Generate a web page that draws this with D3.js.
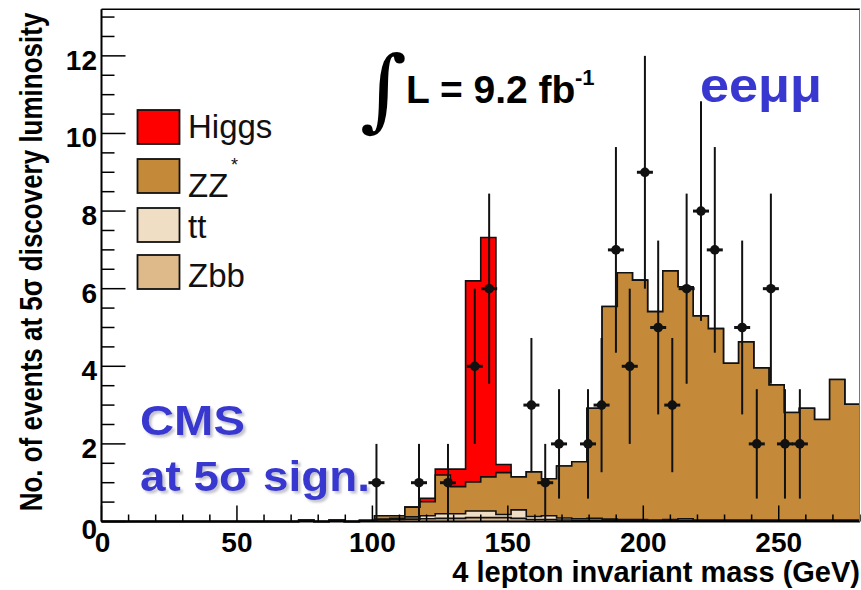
<!DOCTYPE html>
<html><head><meta charset="utf-8">
<script src="https://cdn.jsdelivr.net/npm/d3@7"></script>
<style>body{margin:0;background:#fff} svg{display:block}</style>
</head><body>
<svg id="c" width="861" height="590"></svg>
<script>
// ---- data (50 bins of 5.6 GeV from 0 to 280 GeV) ----
const binWidth = 5.6;
const zbb = [0,0,0,0,0,0,0,0,0,0, 0,0,0,0.03,0,0.03,0,0.02,0.04,0.05,
  0.06,0.07,0.08,0.08,0.10,0.10,0.10,0.08,0.05,0.05, 0.04,0.03,0.03,0.03,0.02,0.02,0.02,0.02,0.03,0.02,
  0.02,0.02,0.02,0.02,0.02,0.02,0.02,0.02,0.02,0.02];
const tt = [0,0,0,0,0,0,0,0,0,0, 0,0,0,0,0,0,0,0,0.02,0.03,
  0.06,0.08,0.12,0.12,0.17,0.17,0.08,0.22,0.08,0.10, 0.05,0.04,0.05,0.03,0.03,0.03,0.02,0.03,0.04,0.02,
  0.02,0.02,0.02,0.02,0.02,0.02,0.02,0.02,0.02,0.02];
const zz = [0,0,0,0,0,0,0,0,0,0, 0,0,0,0,0,0,0,0.01,0.09,0.07,
  0.25,0.36,1.00,0.70,0.75,0.88,1.08,0.85,1.15,0.95, 1.34,1.47,2.84,5.48,6.36,6.17,5.37,6.41,5.98,5.26,
  4.93,4.04,4.59,3.92,3.48,2.77,2.88,2.59,3.62,2.98];
const higgs = [0,0,0,0,0,0,0,0,0,0, 0,0,0,0,0,0,0,0,0,0,
  0,0.09,0.15,0.45,5.18,6.17,0.21,0,0,0, 0,0,0,0,0,0,0,0,0,0,
  0,0,0,0,0,0,0,0,0,0];
// pseudo-data points
const dataMass = [101.5,117.2,127.9,137.8,143.1,158.7,163.8,168.9,179.6,184.6,189.9,195.0,
  200.6,205.5,210.7,216.0,221.3,226.4,236.5,241.9,247.1,252.3,257.8];
const dataCount = [1,1,1,4,6,3,1,2,2,3,7,4,9,5,3,6,8,7,5,2,6,2,2];
const dataErr = [1,1,1,2,2.45,1.73,1,1.41,1.41,1.73,2.65,2,3,2.24,1.73,2.45,2.83,2.65,2.24,1.41,2.45,1.41,1.41];
// axes
const xTicks = [0,50,100,150,200,250];
const yTicks = [0,2,4,6,8,10,12];
const legendNames = ["Higgs","ZZ","tt","Zbb"];
const colors = {higgs:"#ff0000", zz:"#c48a3a", tt:"#f0dec4", zbb:"#deba8a"};

const svg = d3.select("#c");
const FONT = "'Liberation Sans', Arial, Helvetica, sans-serif";
const x = d3.scaleLinear().domain([0,280]).range([101.5,860]);
const y = d3.scaleLinear().domain([0,13.2]).range([521.5,9.3]);

const defs = svg.append("defs");
const f = defs.append("filter").attr("id","shadow").attr("x","-10%").attr("y","-20%").attr("width","130%").attr("height","150%");
f.append("feDropShadow").attr("dx",2.5).attr("dy",2.5).attr("stdDeviation",1.2)
  .attr("flood-color","#9a9aa8").attr("flood-opacity",0.6);

// cumulative stacks
const s1 = zbb.slice();
const s2 = s1.map((v,i)=>v+tt[i]);
const s3 = s2.map((v,i)=>v+zz[i]);
const s4 = s3.map((v,i)=>v+higgs[i]);

function stepPts(arr){
  const pts=[];
  arr.forEach((v,i)=>{pts.push([i*binWidth,v]);pts.push([(i+1)*binWidth,v]);});
  return pts;
}
const area = d3.area().x(d=>x(d[0])).y0(y(0)).y1(d=>y(d[1]));
const line = d3.line().x(d=>x(d[0])).y(d=>y(d[1]));
const hg = svg.append("g");
[[s4,colors.higgs],[s3,colors.zz],[s2,colors.tt],[s1,colors.zbb]].forEach(([arr,c])=>{
  const pts = stepPts(arr);
  hg.append("path").attr("d",area(pts)).attr("fill",c).attr("stroke","none");
  hg.append("path").attr("d",line(pts)).attr("fill","none").attr("stroke","#111").attr("stroke-width",1.6);
});

// data points
const dg = svg.append("g");
dataMass.forEach((m,i)=>{
  const cx=x(m), v=dataCount[i], e=dataErr[i];
  dg.append("line").attr("x1",cx).attr("x2",cx).attr("y1",y(Math.max(0,v-e))).attr("y2",y(v+e))
    .attr("stroke","#111").attr("stroke-width",2);
  dg.append("line").attr("x1",cx-8).attr("x2",cx+8).attr("y1",y(v)).attr("y2",y(v))
    .attr("stroke","#111").attr("stroke-width",3);
  dg.append("circle").attr("cx",cx).attr("cy",y(v)).attr("r",4.8).attr("fill","#111");
});

// axes ticks (drawn on top)
const yMinor = d3.range(0,13.01,0.5);
const xMinor = d3.range(0,281,10);
const ag = svg.append("g").attr("stroke","#000").attr("stroke-width",1.5);
yMinor.forEach(t=>{ const L = (t%2===0)?24:13;
  ag.append("line").attr("x1",x(0)).attr("x2",x(0)+L).attr("y1",y(t)).attr("y2",y(t)); });
xMinor.forEach(t=>{ const L = (t%50===0)?16:7;
  ag.append("line").attr("x1",x(t)).attr("x2",x(t)).attr("y1",y(0)).attr("y2",y(0)-L); });
// frame
svg.append("line").attr("x1",x(0)).attr("x2",x(0)).attr("y1",9.3).attr("y2",y(0)).attr("stroke","#000").attr("stroke-width",2);
svg.append("line").attr("x1",x(0)).attr("x2",860).attr("y1",y(0)).attr("y2",y(0)).attr("stroke","#000").attr("stroke-width",2);
svg.append("line").attr("x1",x(0)).attr("x2",860).attr("y1",9.3).attr("y2",9.3).attr("stroke","#000").attr("stroke-width",1.5);
svg.append("line").attr("x1",859.5).attr("x2",859.5).attr("y1",9.3).attr("y2",y(0)).attr("stroke","#777").attr("stroke-width",1);

// tick labels
yTicks.forEach(t=>{
  svg.append("text").attr("x",97).attr("y",y(t)+(t===0?17:14)).attr("text-anchor","end")
    .attr("font-family",FONT).attr("font-weight","bold").attr("font-size",28).attr("fill","#000").text(t);
});
xTicks.forEach(t=>{
  svg.append("text").attr("x",x(t)+(t===0?1:0)).attr("y",552).attr("text-anchor","middle")
    .attr("font-family",FONT).attr("font-weight","bold").attr("font-size",28).attr("fill","#000").text(t);
});
// axis titles
svg.append("text").attr("x",860).attr("y",581.5).attr("text-anchor","end")
  .attr("font-family",FONT).attr("font-weight","bold").attr("font-size",29).text("4 lepton invariant mass (GeV)");
svg.append("text").attr("transform","translate(42,262) rotate(-90) scale(1,1.2)").attr("text-anchor","middle")
  .attr("font-family",FONT).attr("font-weight","bold").attr("font-size",26)
  .text("No. of events at 5σ discovery luminosity");

// legend
const legColors=[colors.higgs,colors.zz,colors.tt,colors.zbb];
const boxTop=[110,159,208,255];
const labBase=[138.3,196.7,238.3,286.7];
legendNames.forEach((n,i)=>{
  svg.append("rect").attr("x",137.5).attr("y",boxTop[i]).attr("width",42).attr("height",34)
    .attr("fill",legColors[i]).attr("stroke","#111").attr("stroke-width",1.8);
  svg.append("text").attr("x",188).attr("y",labBase[i]).attr("font-family",FONT).attr("font-size",33)
    .attr("fill","#111").text(n);
});
svg.append("text").attr("x",231).attr("y",171).attr("font-family",FONT).attr("font-size",18).attr("fill","#111").text("*");

// annotations
const BLUE="#3838d0";
function blueText(tx,ty,str,size,len){
  svg.append("text").attr("x",tx).attr("y",ty).attr("font-family",FONT).attr("filter","url(#shadow)")
    .attr("font-weight","bold").attr("font-size",size).attr("fill",BLUE)
    .attr("textLength",len).attr("lengthAdjust","spacingAndGlyphs").text(str);
}
blueText(140,435,"CMS",43,105);
blueText(140,490.7,"at 5σ sign.",43,230);
svg.append("text").attr("x",700).attr("y",101.7).attr("font-family",FONT).attr("font-weight","bold")
  .attr("font-size",48).attr("fill",BLUE).attr("textLength",122).attr("lengthAdjust","spacingAndGlyphs").text("eeμμ");
svg.append("text").attr("x",360).attr("y",120).attr("font-family","'DejaVu Serif', serif")
  .attr("font-size",90).attr("fill","#000").text("∫");
svg.append("text").attr("x",406).attr("y",103).attr("font-family",FONT).attr("font-weight","bold")
  .attr("font-size",39).attr("fill","#000").text("L = 9.2 fb");
svg.append("text").attr("x",575).attr("y",85).attr("font-family",FONT).attr("font-weight","bold")
  .attr("font-size",22).attr("fill","#000").text("-1");
</script>
</body></html>
